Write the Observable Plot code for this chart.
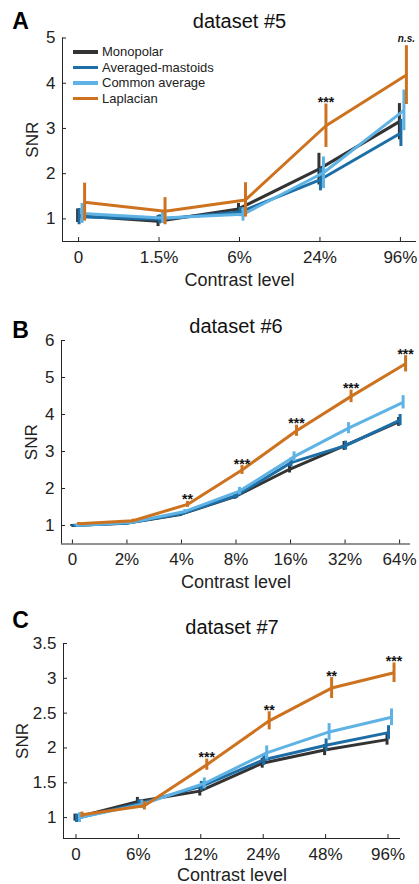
<!DOCTYPE html>
<html>
<head>
<meta charset="utf-8">
<script src="https://cdn.jsdelivr.net/npm/d3@7"></script>
<script src="https://cdn.jsdelivr.net/npm/@observablehq/plot@0.6"></script>
<style>
  body { margin: 0; background: #fff; font-family: "Liberation Sans", Arial, Helvetica, sans-serif; }
  #fig { position: relative; width: 419px; }
  .panel { position: relative; width: 419px; }
  .panel svg { display: block; }
  .legend { position: absolute; left: 73px; top: 44px; font-size: 13px; color: #222; line-height: 15.5px; }
  .legend .row { display: flex; align-items: center; height: 15.5px; }
  .legend .sw { width: 25px; height: 3.5px; margin-right: 4px; }
</style>
</head>
<body>
<div id="fig"></div>
<script>
// Re-referencing schemes and their colours
const series = ["Monopolar", "Averaged-mastoids", "Common average", "Laplacian"];
const colors = ["#333333", "#1d6ea6", "#5eb3e4", "#cd721f"];
// small horizontal dodge (px) so the error bars do not overlap
const dodge = [-1, 0.5, 3.5, 6];

// ---- dataset #5 ----
const levels5 = ["0", "1.5%", "6%", "24%", "96%"];
const mono5 = [1.07, 0.95, 1.22, 2.10, 3.15];
const mast5 = [1.05, 0.99, 1.15, 1.87, 2.90];
const comm5 = [1.12, 1.02, 1.10, 2.02, 3.40];
const lapl5 = [1.37, 1.17, 1.42, 3.06, 4.18];
const monoErr5 = [0.15, 0.12, 0.12, 0.35, 0.40];
const mastErr5 = [0.18, 0.10, 0.10, 0.25, 0.30];
const commErr5 = [0.22, 0.12, 0.15, 0.35, 0.45];
const laplErr5 = [0.42, 0.30, 0.38, 0.48, 0.65];
const sig5 = ["", "", "", "***", "n.s."];
const yTicks5 = [1, 2, 3, 4, 5];

// ---- dataset #6 ----
const levels6 = ["0", "2%", "4%", "8%", "16%", "32%", "64%"];
const mono6 = [1.00, 1.06, 1.30, 1.78, 2.52, 3.15, 3.80];
const mast6 = [1.00, 1.07, 1.32, 1.81, 2.70, 3.16, 3.85];
const comm6 = [1.00, 1.08, 1.38, 1.93, 2.86, 3.63, 4.33];
const lapl6 = [1.05, 1.13, 1.57, 2.50, 3.56, 4.49, 5.37];
const monoErr6 = [0.02, 0.03, 0.05, 0.07, 0.10, 0.12, 0.12];
const mastErr6 = [0.02, 0.03, 0.05, 0.08, 0.12, 0.12, 0.15];
const commErr6 = [0.02, 0.03, 0.05, 0.10, 0.13, 0.15, 0.18];
const laplErr6 = [0.03, 0.04, 0.08, 0.12, 0.15, 0.17, 0.22];
const sig6 = ["", "", "**", "***", "***", "***", "***"];
const yTicks6 = [1, 2, 3, 4, 5, 6];

// ---- dataset #7 ----
const levels7 = ["0", "6%", "12%", "24%", "48%", "96%"];
const mono7 = [1.00, 1.23, 1.38, 1.78, 1.97, 2.12];
const mast7 = [0.99, 1.20, 1.45, 1.83, 2.04, 2.22];
const comm7 = [1.00, 1.19, 1.49, 1.93, 2.23, 2.44];
const lapl7 = [1.04, 1.17, 1.76, 2.39, 2.86, 3.08];
const monoErr7 = [0.05, 0.06, 0.07, 0.07, 0.08, 0.08];
const mastErr7 = [0.06, 0.06, 0.07, 0.08, 0.09, 0.10];
const commErr7 = [0.07, 0.06, 0.08, 0.10, 0.12, 0.12];
const laplErr7 = [0.04, 0.06, 0.08, 0.13, 0.15, 0.14];
const sig7 = ["", "", "***", "**", "**", "***"];
const yTicks7 = [1, 1.5, 2, 2.5, 3, 3.5];

const ink = "#222";

function panel(cfg) {
  const {levels, means, errs, sig, yTicks, xDomain, yDomain, title, letter, layout} = cfg;
  const idx = d3.range(levels.length);
  const marks = [];

  // axis lines (left and bottom only)
  marks.push(Plot.ruleX([xDomain[0]], {stroke: "#262626", strokeWidth: 1}));
  marks.push(Plot.ruleY([yDomain[0]], {stroke: "#262626", strokeWidth: 1}));

  marks.push(Plot.axisX({
    ticks: idx, tickFormat: (i) => levels[i], tickSize: -4, tickPadding: 13,
    fontSize: 17, color: ink, label: null
  }));
  marks.push(Plot.axisY({
    ticks: yTicks, tickFormat: (d) => String(d), tickSize: -4, tickPadding: 11,
    fontSize: 17, color: ink, label: null
  }));

  // series lines with error bars
  series.forEach((name, s) => {
    const rows = idx.map((i) => ({i, v: means[s][i], e: errs[s][i]}));
    marks.push(Plot.line(rows, {x: "i", y: "v", stroke: colors[s], strokeWidth: 3, dx: dodge[s], strokeLinejoin: "miter", strokeLinecap: "butt"}));
    marks.push(Plot.ruleX(rows, {x: "i", y1: (d) => d.v - d.e, y2: (d) => d.v + d.e, stroke: colors[s], strokeWidth: 3, dx: dodge[s]}));
  });

  // significance marks above the Laplacian error bars
  const lap = series.length - 1;
  const sigRows = idx.map((i) => ({i, top: means[lap][i] + errs[lap][i], t: sig[i]}));
  marks.push(Plot.text(sigRows.filter((d) => d.t.startsWith("*")), {
    x: "i", y: "top", text: "t", dx: dodge[lap], dy: 3, lineAnchor: "bottom",
    fontSize: 14, fontWeight: "bold", fill: "#111"
  }));
  marks.push(Plot.text(sigRows.filter((d) => d.t && !d.t.startsWith("*")), {
    x: "i", y: "top", text: "t", dx: dodge[lap], dy: -4, lineAnchor: "bottom",
    fontSize: 10, fontWeight: "bold", fontStyle: "italic", fill: "#111"
  }));

  // titles and labels
  marks.push(Plot.text([title], {text: (d) => d, frameAnchor: "top", dy: layout.titleDy, lineAnchor: "bottom", fontSize: 20, fill: "#111"}));
  marks.push(Plot.text([letter], {text: (d) => d, frameAnchor: "top-left", dx: layout.letterDx, dy: layout.letterDy, lineAnchor: "bottom", textAnchor: "middle", fontSize: 23, fontWeight: "bold", fill: "#000"}));
  marks.push(Plot.text(["SNR"], {text: (d) => d, frameAnchor: "left", dx: layout.snrDx, rotate: -90, textAnchor: "middle", lineAnchor: "middle", fontSize: 17, fill: ink}));
  marks.push(Plot.text(["Contrast level"], {text: (d) => d, frameAnchor: "bottom", dy: layout.xlabDy, textAnchor: "middle", lineAnchor: "middle", fontSize: 18, fill: ink}));

  return Plot.plot({
    width: 419,
    height: layout.height,
    marginTop: layout.mt, marginBottom: layout.mb, marginLeft: layout.ml, marginRight: layout.mr,
    style: {fontFamily: '"Liberation Sans", Arial, Helvetica, sans-serif', background: "#fff", overflow: "visible"},
    x: {domain: xDomain},
    y: {domain: yDomain},
    marks
  });
}

const fig = document.getElementById("fig");

function addPanel(svg) {
  const div = document.createElement("div");
  div.className = "panel";
  div.appendChild(svg);
  fig.appendChild(div);
  return div;
}

const pA = addPanel(panel({
  levels: levels5,
  means: [mono5, mast5, comm5, lapl5],
  errs: [monoErr5, mastErr5, commErr5, laplErr5],
  sig: sig5, yTicks: yTicks5,
  xDomain: [-0.2, 4.2], yDomain: [0.5, 5],
  title: "dataset #5", letter: "A",
  layout: {height: 290, mt: 37.5, mb: 49, ml: 62, mr: 3, titleDy: -10.5, letterDx: -42, letterDy: -9.5, snrDx: -30, xlabDy: 39}
}));

addPanel(panel({
  levels: levels6,
  means: [mono6, mast6, comm6, lapl6],
  errs: [monoErr6, mastErr6, commErr6, laplErr6],
  sig: sig6, yTicks: yTicks6,
  xDomain: [-0.2, 6.2], yDomain: [0.5, 6],
  title: "dataset #6", letter: "B",
  layout: {height: 300, mt: 50, mb: 46.5, ml: 61, mr: 9, titleDy: -8, letterDx: -41, letterDy: -3, snrDx: -30, xlabDy: 38.5}
}));

addPanel(panel({
  levels: levels7,
  means: [mono7, mast7, comm7, lapl7],
  errs: [monoErr7, mastErr7, commErr7, laplErr7],
  sig: sig7, yTicks: yTicks7,
  xDomain: [-0.2, 5.2], yDomain: [0.7, 3.5],
  title: "dataset #7", letter: "C",
  layout: {height: 294, mt: 53, mb: 46, ml: 63, mr: 19, titleDy: -10, letterDx: -43, letterDy: -16, snrDx: -41, xlabDy: 37}
}));

// legend inside panel A
const legend = document.createElement("div");
legend.className = "legend";
series.forEach((name, s) => {
  const row = document.createElement("div");
  row.className = "row";
  const sw = document.createElement("span");
  sw.className = "sw";
  sw.style.background = colors[s];
  const label = document.createElement("span");
  label.textContent = name;
  row.appendChild(sw);
  row.appendChild(label);
  legend.appendChild(row);
});
pA.appendChild(legend);
</script>
</body>
</html>
